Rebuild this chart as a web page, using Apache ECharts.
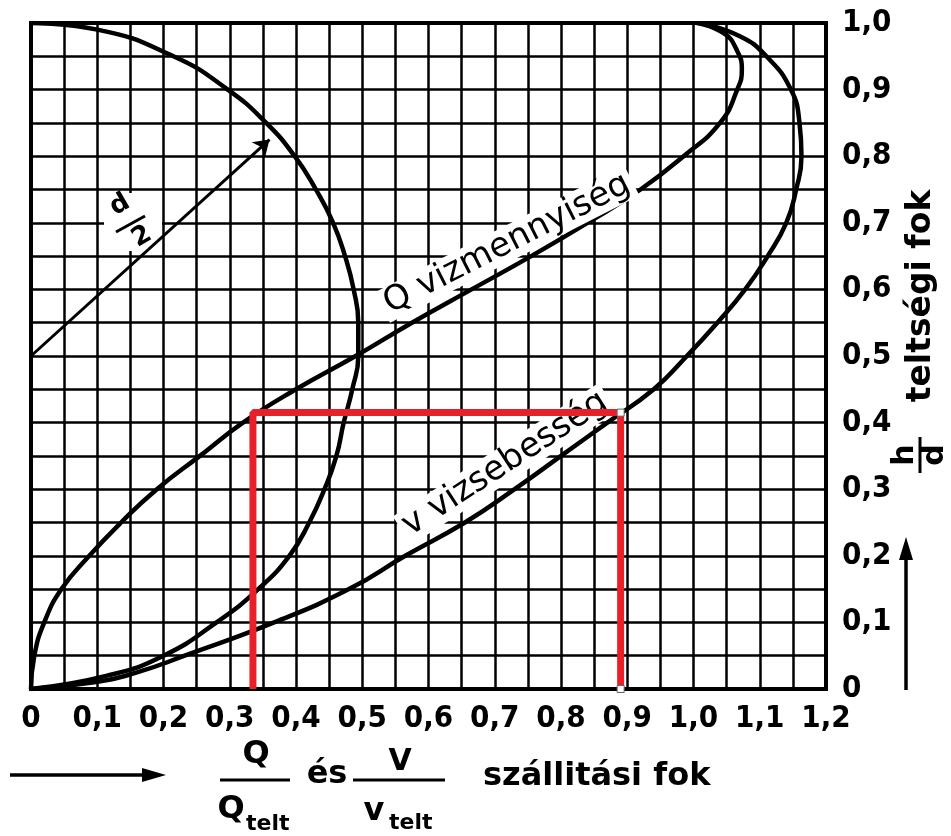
<!DOCTYPE html>
<html>
<head>
<meta charset="utf-8">
<script src="https://cdn.jsdelivr.net/npm/echarts@6/dist/echarts.min.js"></script>
<style>
  html, body { margin: 0; padding: 0; background: #fff; }
  #chart { width: 951px; height: 836px; }
</style>
</head>
<body>
<div id="chart"></div>
<script>
// h/d (teltségi fok) readings and the matching ratios
const circleH = [1.0, 0.99, 0.95, 0.9, 0.85, 0.8, 0.75, 0.7, 0.65, 0.6, 0.55, 0.5, 0.45, 0.4, 0.35, 0.3, 0.25, 0.2, 0.15, 0.1, 0.05, 0.02, 0];
const circleX = [0, 0.1, 0.215, 0.297, 0.355, 0.398, 0.43, 0.456, 0.474, 0.487, 0.494, 0.494, 0.485, 0.472, 0.461, 0.443, 0.42, 0.39, 0.343, 0.28, 0.2, 0.115, 0];

const qH = [0, 0.05, 0.1, 0.15, 0.2, 0.25, 0.3, 0.35, 0.4, 0.45, 0.5, 0.55, 0.6, 0.65, 0.7, 0.75, 0.8, 0.85, 0.9, 0.93, 0.96, 0.985, 1.0];
const qX = [0, 0.005, 0.02, 0.046, 0.088, 0.136, 0.19, 0.255, 0.32, 0.4, 0.49, 0.575, 0.665, 0.755, 0.84, 0.92, 0.985, 1.04, 1.066, 1.073, 1.065, 1.045, 1.005];

const vH = [0, 0.01, 0.025, 0.05, 0.1, 0.15, 0.2, 0.25, 0.3, 0.35, 0.4, 0.45, 0.5, 0.55, 0.6, 0.65, 0.7, 0.75, 0.8, 0.85, 0.9, 0.95, 0.98, 1.0];
const vX = [0, 0.095, 0.16, 0.232, 0.367, 0.48, 0.565, 0.655, 0.73, 0.8, 0.87, 0.94, 0.99, 1.036, 1.078, 1.112, 1.14, 1.155, 1.163, 1.16, 1.147, 1.11, 1.07, 1.01];

// red reading lines: h/d = 0.415 -> Q/Qtelt = 0.335, v/vtelt = 0.89
const redX = [0.335, 0.335, 0.89, 0.89];
const redH = [0, 0.415, 0.415, 0];

// d/2 radius arrow
const radiusFrom = [0, 0.5];
const radiusTo = [0.36, 0.825];

const xTickLabels = ['0', '0,1', '0,2', '0,3', '0,4', '0,5', '0,6', '0,7', '0,8', '0,9', '1,0', '1,1', '1,2'];
const yTickLabels = ['0', '0,1', '0,2', '0,3', '0,4', '0,5', '0,6', '0,7', '0,8', '0,9', '1,0'];

function pairs(xs, hs) {
  return xs.map(function (x, i) { return [x, hs[i]]; });
}

const labelFont = "'Liberation Sans Narrow', 'DejaVu Sans Condensed', sans-serif";
const textFont = "'DejaVu Sans', sans-serif";

let chart = echarts.init(document.getElementById('chart'));

const redData = pairs(redX, redH).map(function (p, i) {
  if (i >= 2) {
    return { value: p, symbol: 'rect', symbolSize: 7, itemStyle: { color: '#fff', borderColor: '#666', borderWidth: 1 } };
  }
  return { value: p, symbol: 'none' };
});

function txt(x, y, s, font, extra) {
  let el = {
    type: 'text', x: x, y: y, z: 4,
    style: { text: s, font: font, fill: '#000', align: 'center', verticalAlign: 'middle' }
  };
  return Object.assign(el, extra || {});
}

chart.setOption({
  animation: false,
  backgroundColor: '#fff',
  grid: {
    left: 31, top: 23, width: 795, height: 666,
    show: true, borderColor: '#000', borderWidth: 4
  },
  xAxis: {
    type: 'value', min: 0, max: 1.2, interval: 0.05,
    axisLine: { show: false }, axisTick: { show: false },
    splitLine: { show: true, lineStyle: { color: '#000', width: 2.5 } },
    axisLabel: {
      margin: 14, color: '#000', fontFamily: labelFont, fontSize: 31, fontWeight: 'bold',
      formatter: function (val) {
        let k = Math.round(val * 20);
        return k % 2 === 0 ? xTickLabels[k / 2] : '';
      }
    }
  },
  yAxis: {
    type: 'value', position: 'right', min: 0, max: 1, interval: 0.05,
    axisLine: { show: false }, axisTick: { show: false },
    splitLine: { show: true, lineStyle: { color: '#000', width: 2.5 } },
    axisLabel: {
      margin: 16, color: '#000', fontFamily: labelFont, fontSize: 31, fontWeight: 'bold',
      formatter: function (val) {
        let k = Math.round(val * 20);
        return k % 2 === 0 ? yTickLabels[k / 2] : '';
      }
    }
  },
  series: [
    {
      name: 'kör', type: 'line', smooth: true, showSymbol: false, z: 3,
      lineStyle: { color: '#000', width: 4.5 },
      data: pairs(circleX, circleH)
    },
    {
      name: 'Q', type: 'line', smooth: true, showSymbol: false, z: 3,
      lineStyle: { color: '#000', width: 4.5 },
      data: pairs(qX, qH)
    },
    {
      name: 'v', type: 'line', smooth: true, showSymbol: false, z: 3,
      lineStyle: { color: '#000', width: 4.5 },
      data: pairs(vX, vH)
    },
    {
      name: 'd/2', type: 'line', data: [], z: 3,
      markLine: {
        silent: true, animation: false,
        symbol: ['none', 'arrow'], symbolSize: 15,
        label: { show: false },
        lineStyle: { color: '#000', width: 3, type: 'solid' },
        data: [[{ coord: radiusFrom }, { coord: radiusTo }]]
      }
    },
    {
      name: 'leolvasás', type: 'line', z: 6,
      lineStyle: { color: '#e8202a', width: 7 },
      itemStyle: { color: '#e8202a' },
      data: redData
    }
  ],
  graphic: [
    {
      type: 'text', x: 507, y: 244, rotation: 27 * Math.PI / 180, z: 4,
      style: {
        text: 'Q vizmennyiség', font: '34px ' + textFont, fill: '#000',
        align: 'center', verticalAlign: 'middle',
        backgroundColor: '#fff', padding: [0, 4]
      }
    },
    {
      type: 'text', x: 505, y: 464, rotation: 33 * Math.PI / 180, z: 4,
      style: {
        text: 'v vizsebesség', font: '34px ' + textFont, fill: '#000',
        align: 'center', verticalAlign: 'middle',
        backgroundColor: '#fff', padding: [0, 4]
      }
    },
    // d/2 label, with the grid cleared behind it
    { type: 'rect', z: 1, shape: { x: 104, y: 193, width: 58, height: 58 }, style: { fill: '#fff' } },
    txt(120, 205, 'd', 'bold 26px ' + textFont, { rotation: 30 * Math.PI / 180 }),
    { type: 'line', z: 4, shape: { x1: 116, y1: 232, x2: 145, y2: 216 }, style: { stroke: '#000', lineWidth: 3 } },
    txt(142, 237, '2', 'bold 26px ' + textFont, { rotation: 30 * Math.PI / 180 }),
    // right title
    txt(921, 296, 'teltségi fok', 'bold 33px ' + textFont, { rotation: Math.PI / 2 }),
    {
      type: 'group', x: 920, y: 455, rotation: Math.PI / 2,
      children: [
        txt(0, -15, 'h', 'bold 30px ' + textFont),
        { type: 'line', z: 4, shape: { x1: -18, y1: 0, x2: 18, y2: 0 }, style: { stroke: '#000', lineWidth: 3 } },
        txt(0, 15, 'd', 'bold 30px ' + textFont)
      ]
    },
    { type: 'line', shape: { x1: 906, y1: 690, x2: 906, y2: 552 }, style: { stroke: '#000', lineWidth: 3.5 } },
    { type: 'polygon', shape: { points: [[906, 537], [899, 560], [913, 560]] }, style: { fill: '#000' } },
    // bottom title
    { type: 'line', shape: { x1: 10, y1: 775, x2: 148, y2: 775 }, style: { stroke: '#000', lineWidth: 3.5 } },
    { type: 'polygon', shape: { points: [[166, 775], [142, 768], [142, 782]] }, style: { fill: '#000' } },
    txt(256, 755, 'Q', 'bold 32px ' + textFont),
    { type: 'line', shape: { x1: 220, y1: 780, x2: 290, y2: 780 }, style: { stroke: '#000', lineWidth: 3 } },
    txt(231, 810, 'Q', 'bold 32px ' + textFont),
    txt(246, 824, 'telt', 'bold 22px ' + textFont, { style: { text: 'telt', font: 'bold 22px ' + textFont, fill: '#000', align: 'left', verticalAlign: 'middle' } }),
    txt(327, 775, 'és', 'bold 32px ' + textFont),
    txt(400, 762, 'V', 'bold 30px ' + textFont),
    { type: 'line', shape: { x1: 353, y1: 780, x2: 445, y2: 780 }, style: { stroke: '#000', lineWidth: 3 } },
    txt(374, 812, 'v', 'bold 32px ' + textFont),
    txt(389, 823, 'telt', 'bold 22px ' + textFont, { style: { text: 'telt', font: 'bold 22px ' + textFont, fill: '#000', align: 'left', verticalAlign: 'middle' } }),
    txt(483, 777, 'szállitási fok', 'bold 32px ' + textFont, { style: { text: 'szállitási fok', font: 'bold 32px ' + textFont, fill: '#000', align: 'left', verticalAlign: 'middle' } })
  ]
});
</script>
</body>
</html>
